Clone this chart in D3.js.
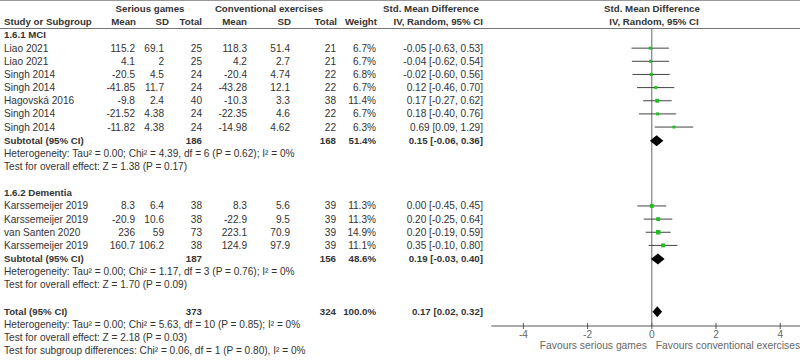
<!DOCTYPE html>
<html>
<head>
<meta charset="utf-8">
<script src="https://cdn.jsdelivr.net/npm/d3@7"></script>
<style>
  body { margin: 0; background: #fff; }
  svg { font-family: "Liberation Sans", Arial, sans-serif; font-size: 10.1px; fill: #333; }
  .b { font-weight: bold; font-size: 9.7px; }
</style>
</head>
<body>
<script>
//////////////// Daten ////////////////////
var studies  = ["Liao 2021", "Liao 2021", "Singh 2014", "Singh 2014", "Hagovská 2016", "Singh 2014", "Singh 2014",
                "Karssemeijer 2019", "Karssemeijer 2019", "van Santen 2020", "Karssemeijer 2019"];
var groupOf  = [0, 0, 0, 0, 0, 0, 0, 1, 1, 1, 1];
var sgMean   = ["115.2", "4.1", "-20.5", "-41.85", "-9.8", "-21.52", "-11.82", "8.3", "-20.9", "236", "160.7"];
var sgSD     = ["69.1", "2", "4.5", "11.7", "2.4", "4.38", "4.38", "6.4", "10.6", "59", "106.2"];
var sgN      = [25, 25, 24, 24, 40, 24, 24, 38, 38, 73, 38];
var ceMean   = ["118.3", "4.2", "-20.4", "-43.28", "-10.3", "-22.35", "-14.98", "8.3", "-22.9", "223.1", "124.9"];
var ceSD     = ["51.4", "2.7", "4.74", "12.1", "3.3", "4.6", "4.62", "5.6", "9.5", "70.9", "97.9"];
var ceN      = [21, 21, 22, 22, 38, 22, 22, 39, 39, 39, 39];
var weight   = [6.7, 6.7, 6.8, 6.7, 11.4, 6.7, 6.3, 11.3, 11.3, 14.9, 11.1];
var smd      = [-0.05, -0.04, -0.02, 0.12, 0.17, 0.18, 0.69, 0.00, 0.20, 0.20, 0.35];
var lo       = [-0.63, -0.62, -0.60, -0.46, -0.27, -0.40, 0.09, -0.45, -0.25, -0.19, -0.10];
var hi       = [0.53, 0.54, 0.56, 0.70, 0.62, 0.76, 1.29, 0.45, 0.64, 0.59, 0.80];

var groups     = ["1.6.1 MCI", "1.6.2 Dementia"];
var subSgN     = [186, 187];
var subCeN     = [168, 156];
var subWeight  = ["51.4%", "48.6%"];
var subSmd     = [0.15, 0.19];
var subLo      = [-0.06, -0.03];
var subHi      = [0.36, 0.40];
var subHet     = ["Heterogeneity: Tau\u00b2 = 0.00; Chi\u00b2 = 4.39, df = 6 (P = 0.62); I\u00b2 = 0%",
                  "Heterogeneity: Tau\u00b2 = 0.00; Chi\u00b2 = 1.17, df = 3 (P = 0.76); I\u00b2 = 0%"];
var subTest    = ["Test for overall effect: Z = 1.38 (P = 0.17)",
                  "Test for overall effect: Z = 1.70 (P = 0.09)"];

var total      = {sgN: 373, ceN: 324, weight: "100.0%", smd: 0.17, lo: 0.02, hi: 0.32};
var totalNotes = ["Heterogeneity: Tau\u00b2 = 0.00; Chi\u00b2 = 5.63, df = 10 (P = 0.85); I\u00b2 = 0%",
                  "Test for overall effect: Z = 2.18 (P = 0.03)",
                  "Test for subgroup differences: Chi\u00b2 = 0.06, df = 1 (P = 0.80), I\u00b2 = 0%"];

var ticks = [-4, -2, 0, 2, 4];

//////////////// Layout ////////////////////
var width = 800, height = 362;
var rowH = 13.15, firstRow = 35;
var axisY = 326;

// Spalten (rechtsbündig)
var col = {study: 4, sgMean: 135, sgSD: 164, sgN: 202, ceMean: 247, ceSD: 290, ceN: 336, weight: 376, ci: 483};

var x = d3.scaleLinear().domain([-5, 5]).range([491.3, 812.3]);

function rowY(k){ return firstRow + k * rowH; }
function fmt(v){ return v.toFixed(2); }
function ciText(m, l, h){ return fmt(m) + " [" + fmt(l) + ", " + fmt(h) + "]"; }

// Zeilen zusammenbauen
var rows = [];
var k = 0;
groups.forEach(function(g, gi){
  rows.push({type: "head", k: k++, label: g});
  d3.range(studies.length).filter(function(i){ return groupOf[i] === gi; }).forEach(function(i){
    rows.push({type: "study", k: k++, i: i});
  });
  rows.push({type: "sub", k: k++, g: gi});
  rows.push({type: "note", k: k++, label: subHet[gi]});
  rows.push({type: "note", k: k++, label: subTest[gi]});
  k++; // Leerzeile
});
rows.push({type: "total", k: k++});
totalNotes.forEach(function(t){ rows.push({type: "note", k: k++, label: t}); });

//////////////// SVG ////////////////////
var svg = d3.select("body").append("svg")
  .attr("width", width)
  .attr("height", height);

// Linien oben
svg.append("line").attr("x1", 0).attr("x2", width).attr("y1", 0.5).attr("y2", 0.5)
  .style("stroke", "#999").style("stroke-width", 1);
svg.append("line").attr("x1", 0).attr("x2", width).attr("y1", 28.5).attr("y2", 28.5)
  .style("stroke", "#777").style("stroke-width", 1);

//////////////// Kopfzeilen ////////////////////
function txt(px, py, s, anchor, bold){
  return svg.append("text")
    .attr("x", px).attr("y", py)
    .attr("dy", "0.35em")
    .attr("class", bold ? "b" : null)
    .style("text-anchor", anchor || "start")
    .text(s);
}

txt(150, 8.5, "Serious games", "middle", true);
txt(269, 8.5, "Conventional exercises", "middle", true);
txt(431, 8.5, "Std. Mean Difference", "middle", true);
txt(652, 8.5, "Std. Mean Difference", "middle", true);

txt(col.study, 22, "Study or Subgroup", "start", true);
txt(136, 22, "Mean", "end", true);
txt(169, 22, "SD", "end", true);
txt(col.sgN, 22, "Total", "end", true);
txt(col.ceMean, 22, "Mean", "end", true);
txt(291, 22, "SD", "end", true);
txt(col.ceN + 1, 22, "Total", "end", true);
txt(col.weight + 1, 22, "Weight", "end", true);
txt(col.ci, 22, "IV, Random, 95% CI", "end", true);
txt(654, 22, "IV, Random, 95% CI", "middle", true);

//////////////// Null-Linie + Achse ////////////////////
svg.append("line")
  .attr("x1", x(0)).attr("x2", x(0))
  .attr("y1", 29).attr("y2", axisY)
  .style("stroke", "#666").style("stroke-width", 1);

var axis = svg.append("g")
  .attr("transform", "translate(0," + axisY + ")");
axis.append("line")
  .attr("x1", x(-5)).attr("x2", width)
  .style("stroke", "#555").style("stroke-width", 1);
axis.selectAll("line.tick")
  .data(ticks).enter().append("line")
  .attr("class", "tick")
  .attr("x1", function(d){ return x(d); }).attr("x2", function(d){ return x(d); })
  .attr("y1", -3).attr("y2", 3)
  .style("stroke", "#555");
axis.selectAll("text")
  .data(ticks).enter().append("text")
  .attr("x", function(d){ return x(d); })
  .attr("y", 8)
  .attr("dy", "0.35em")
  .style("text-anchor", "middle")
  .style("fill", "#666")
  .text(function(d){ return d < 0 ? "-" + (-d) : d; });

txt(x(0) - 5, 345.5, "Favours serious games", "end").style("fill", "#666").style("font-size", "10.3px");
txt(x(0) + 4, 345.5, "Favours conventional exercises", "start").style("fill", "#666").style("font-size", "10.3px");

//////////////// Tabelle ////////////////////
rows.forEach(function(r){
  var yy = rowY(r.k);
  if (r.type === "head") {
    txt(col.study, yy, r.label, "start", true);
  } else if (r.type === "note") {
    txt(col.study, yy, r.label, "start");
  } else if (r.type === "study") {
    var i = r.i;
    txt(col.study, yy, studies[i]);
    txt(col.sgMean, yy, sgMean[i], "end");
    txt(col.sgSD, yy, sgSD[i], "end");
    txt(col.sgN, yy, sgN[i], "end");
    txt(col.ceMean, yy, ceMean[i], "end");
    txt(col.ceSD, yy, ceSD[i], "end");
    txt(col.ceN, yy, ceN[i], "end");
    txt(col.weight, yy, weight[i].toFixed(1) + "%", "end");
    txt(col.ci, yy, ciText(smd[i], lo[i], hi[i]), "end");
  } else {
    var d = r.type === "sub"
      ? {label: "Subtotal (95% CI)", sgN: subSgN[r.g], ceN: subCeN[r.g], weight: subWeight[r.g], smd: subSmd[r.g], lo: subLo[r.g], hi: subHi[r.g]}
      : {label: "Total (95% CI)", sgN: total.sgN, ceN: total.ceN, weight: total.weight, smd: total.smd, lo: total.lo, hi: total.hi};
    txt(col.study, yy, d.label, "start", true);
    txt(col.sgN, yy, d.sgN, "end", true);
    txt(col.ceN, yy, d.ceN, "end", true);
    txt(col.weight, yy, d.weight, "end", true);
    txt(col.ci, yy, ciText(d.smd, d.lo, d.hi), "end", true);
    r.d = d;
  }
});

//////////////// Forest ////////////////////
var studyRows = rows.filter(function(r){ return r.type === "study"; });

svg.selectAll("line.ci")
  .data(studyRows).enter().append("line")
  .attr("class", "ci")
  .attr("x1", function(r){ return x(lo[r.i]); })
  .attr("x2", function(r){ return x(hi[r.i]); })
  .attr("y1", function(r){ return rowY(r.k); })
  .attr("y2", function(r){ return rowY(r.k); })
  .style("stroke", "#444").style("stroke-width", 1);

svg.selectAll("rect.sq")
  .data(studyRows).enter().append("rect")
  .attr("class", "sq")
  .attr("x", function(r){ return x(smd[r.i]) - 0.58 * Math.sqrt(weight[r.i]); })
  .attr("y", function(r){ return rowY(r.k) - 0.58 * Math.sqrt(weight[r.i]); })
  .attr("width", function(r){ return 1.16 * Math.sqrt(weight[r.i]); })
  .attr("height", function(r){ return 1.16 * Math.sqrt(weight[r.i]); })
  .style("fill", "#1fbf1f");

var diaRows = rows.filter(function(r){ return r.d; });
svg.selectAll("path.dia")
  .data(diaRows).enter().append("path")
  .attr("class", "dia")
  .attr("d", function(r){
    var yy = rowY(r.k) + 0.5;
    return "M" + [[x(r.d.lo), yy], [x(r.d.smd), yy - 5.5], [x(r.d.hi), yy], [x(r.d.smd), yy + 5.5]].join("L") + "Z";
  })
  .style("fill", "#000");
</script>
</body>
</html>
